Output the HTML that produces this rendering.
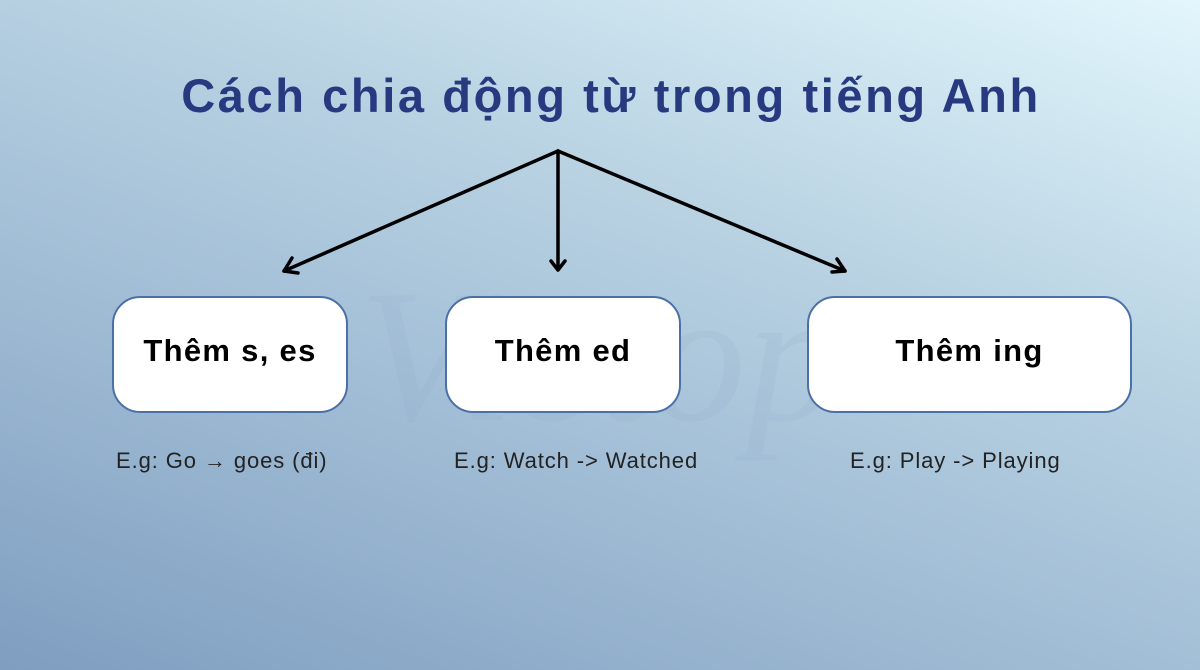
<!DOCTYPE html>
<html><head><meta charset="utf-8"><style>
html,body{margin:0;padding:0}
body{width:1200px;height:670px;overflow:hidden;position:relative;font-family:"Liberation Sans",sans-serif;
background:linear-gradient(200deg,#e2f6fc 0%,#b9d3e3 35%,#9fbbd4 65%,#7f9ec0 100%);}
.t{position:absolute;left:0;width:1222px;top:68px;text-align:center;font-weight:bold;font-size:47px;color:#27397f;letter-spacing:2.6px}
.b{position:absolute;background:#fff;border:2px solid #4b70a6;border-radius:28px;box-sizing:border-box;display:flex;align-items:center;justify-content:center;font-weight:bold;font-size:31px;letter-spacing:1.3px;color:#000;padding-bottom:8px}
.e{position:absolute;top:448px;font-size:22px;letter-spacing:0.9px;color:#222;white-space:nowrap}
svg{position:absolute;left:0;top:0}
</style></head><body>
<div class="t">Cách chia động từ trong tiếng Anh</div>
<svg width="1200" height="670">
<text x="600" y="420" font-family="Liberation Serif" font-style="italic" font-size="190" fill="#8fa8c8" opacity="0.15" text-anchor="middle">Vietop</text>
<g stroke="#000" stroke-width="3.5" fill="none" stroke-linecap="round" stroke-linejoin="round">
<line x1="558" y1="151" x2="284" y2="271"/>
<line x1="558" y1="151" x2="558" y2="269"/>
<line x1="558" y1="151" x2="845" y2="271"/>
<polyline points="292,258 284,271 298,273"/>
<polyline points="551,261 558,270 565,261"/>
<polyline points="832,272 845,271 837,259"/>
</g>
</svg>
<div class="b" style="left:112px;top:296px;width:236px;height:117px">Thêm s, es</div>
<div class="b" style="left:445px;top:296px;width:236px;height:117px">Thêm ed</div>
<div class="b" style="left:807px;top:296px;width:325px;height:117px">Thêm ing</div>
<div class="e" style="left:116px">E.g: Go → goes (đi)</div>
<div class="e" style="left:454px">E.g: Watch -&gt; Watched</div>
<div class="e" style="left:850px">E.g: Play -&gt; Playing</div>
</body></html>
